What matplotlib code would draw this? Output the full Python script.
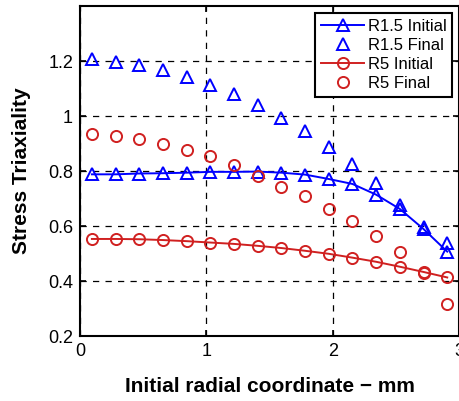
import numpy as np
import matplotlib
matplotlib.use('Agg')
from matplotlib import pyplot as plt

plt.rcParams['font.family'] = ['Liberation Sans', 'DejaVu Sans']

# initial radial coordinate (mm), 16 points
x = (np.arange(16) + 0.5) * 3 / 16

r15_initial = [0.788, 0.788, 0.791, 0.792, 0.794, 0.797, 0.797, 0.798,
               0.794, 0.787, 0.771, 0.753, 0.714, 0.662, 0.589, 0.507]
r15_final = [1.206, 1.198, 1.184, 1.167, 1.143, 1.114, 1.081, 1.041,
             0.994, 0.945, 0.888, 0.827, 0.757, 0.678, 0.598, 0.540]
r5_initial = [0.553, 0.553, 0.552, 0.549, 0.545, 0.540, 0.535, 0.528,
              0.520, 0.510, 0.499, 0.485, 0.470, 0.452, 0.433, 0.413]
r5_final = [0.935, 0.929, 0.917, 0.900, 0.878, 0.854, 0.821, 0.781,
            0.742, 0.709, 0.663, 0.617, 0.565, 0.504, 0.431, 0.317]

blue = '#0000ff'
red = '#d02020'

fig = plt.figure(figsize=(4.6, 4.01), dpi=100)
ax = fig.add_axes([0.174, 0.162, 0.824, 0.823])

ax.plot(x, r15_initial, '-^', color=blue, mfc='none', mec=blue, ms=9, mew=1.4, lw=1.4, label='R1.5 Initial')
ax.plot(x, r15_final, '^', color=blue, mfc='none', mec=blue, ms=9, mew=1.4, label='R1.5 Final')
ax.plot(x, r5_initial, '-o', color=red, mfc='none', mec=red, ms=8, mew=1.4, lw=1.4, label='R5 Initial')
ax.plot(x, r5_final, 'o', color=red, mfc='none', mec=red, ms=8, mew=1.4, label='R5 Final')

ax.set_xlim(0, 3)
ax.set_ylim(0.2, 1.4)
ax.set_xticks([0, 1, 2, 3])
ax.set_xticklabels(['0', '1', '2', '3'])
ax.set_yticks([0.2, 0.4, 0.6, 0.8, 1.0, 1.2])
ax.set_yticklabels(['0.2', '0.4', '0.6', '0.8', '1', '1.2'])
ax.grid(True, color='black', linestyle=(0, (5, 5)), linewidth=0.9)
ax.tick_params(direction='in', top=True, right=True, labelsize=13, length=4, width=1.2, pad=5)
for s in ax.spines.values():
    s.set_linewidth(1.5)

ax.set_xlabel('Initial radial coordinate \u2212 mm', fontsize=15, fontweight='bold', labelpad=12)
ax.set_ylabel('Stress Triaxiality', fontsize=15, fontweight='bold', labelpad=12)

leg = ax.legend(loc='upper right', fontsize=12, fancybox=False, framealpha=1,
                edgecolor='black', borderaxespad=0.4, handlelength=2.6,
                handletextpad=0.2, labelspacing=0.25, borderpad=0.35)
leg.get_frame().set_linewidth(1.5)

fig.savefig('out.png', dpi=100)
